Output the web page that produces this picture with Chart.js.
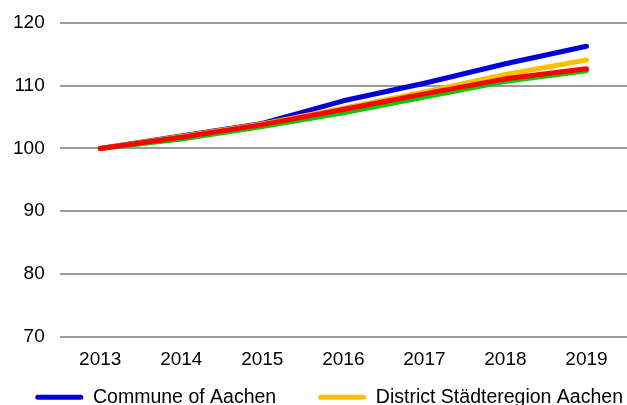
<!DOCTYPE html>
<html>
<head>
<meta charset="utf-8">
<script src="https://cdn.jsdelivr.net/npm/chart.js@4"></script>
<style>
  html, body { margin: 0; padding: 0; background: #fff; overflow: hidden; }
  #wrap { width: 627px; height: 405px; }
</style>
</head>
<body>
<div id="wrap"><canvas id="indexChart"></canvas></div>
<script>
// index, 2013 = 100
const years = ['2013', '2014', '2015', '2016', '2017', '2018', '2019'];
const communeAachen = [100, 102.0, 104.0, 107.6, 110.4, 113.5, 116.3];
const districtAachen = [100, 101.9, 103.9, 106.4, 109.0, 111.8, 114.1];
const northRhineWestphalia = [100, 101.5, 103.5, 105.7, 108.2, 110.7, 112.4];
const germany = [100, 101.8, 103.8, 106.2, 108.7, 111.1, 112.7];
const yTicks = [70, 80, 90, 100, 110, 120];

Chart.defaults.font.family = '"Liberation Sans", Arial, sans-serif';
Chart.defaults.font.size = 19;
Chart.defaults.color = '#000';

function lineSet(label, data, color, order) {
    return {
        label: label,
        data: data,
        borderColor: color,
        backgroundColor: color,
        borderWidth: 5,
        borderCapStyle: 'round',
        borderJoinStyle: 'round',
        pointRadius: 0,
        tension: 0,
        order: order
    };
}

const ctx = document.getElementById('indexChart').getContext('2d');
const indexChart = new Chart(ctx, {
    type: 'line',
    data: {
        labels: years,
        datasets: [
            lineSet('Commune of Aachen', communeAachen, '#0000d8', 3),
            lineSet('District Städteregion Aachen', districtAachen, '#ffc000', 2),
            lineSet('North Rhine-Westphalia', northRhineWestphalia, '#00cc00', 1),
            lineSet('Germany', germany, '#ff0000', 0)
        ]
    },
    options: {
        responsive: true,
        maintainAspectRatio: false,
        animation: false,
        layout: { padding: { left: -2, top: 23, right: 0, bottom: -12 } },
        scales: {
            x: {
                offset: true,
                grid: { display: false, drawTicks: false },
                border: { display: false },
                ticks: { padding: 12 }
            },
            y: {
                min: yTicks[0],
                max: yTicks[yTicks.length - 1],
                afterBuildTicks: function(scale) {
                    scale.ticks = yTicks.map(v => ({ value: v }));
                },
                afterFit: function(scale) {
                    // the labels overhang is already covered by the layout padding
                    scale.paddingTop = 0;
                    scale.paddingBottom = 0;
                },
                grid: { color: '#9a9a9a', lineWidth: 2, drawTicks: false },
                border: { display: false },
                ticks: { padding: 15 }
            }
        },
        plugins: {
            legend: {
                position: 'bottom',
                align: 'end',
                // only the first row of the legend is visible in the picture
                labels: {
                    padding: 4,
                    boxWidth: 48,
                    boxHeight: 5,
                    font: { size: 19.5 },
                    sort: (a, b) => a.datasetIndex - b.datasetIndex,
                    filter: item => item.datasetIndex < 2,
                    generateLabels: function(chart) {
                        return chart.data.datasets.map((ds, i) => ({
                            text: i === 0 ? ds.label + '       ' : ds.label,
                            fillStyle: ds.borderColor,
                            strokeStyle: ds.borderColor,
                            lineWidth: 0,
                            borderRadius: 2.5,
                            hidden: false,
                            datasetIndex: i
                        }));
                    }
                }
            },
            tooltip: { enabled: false }
        }
    }
});
</script>
</body>
</html>
